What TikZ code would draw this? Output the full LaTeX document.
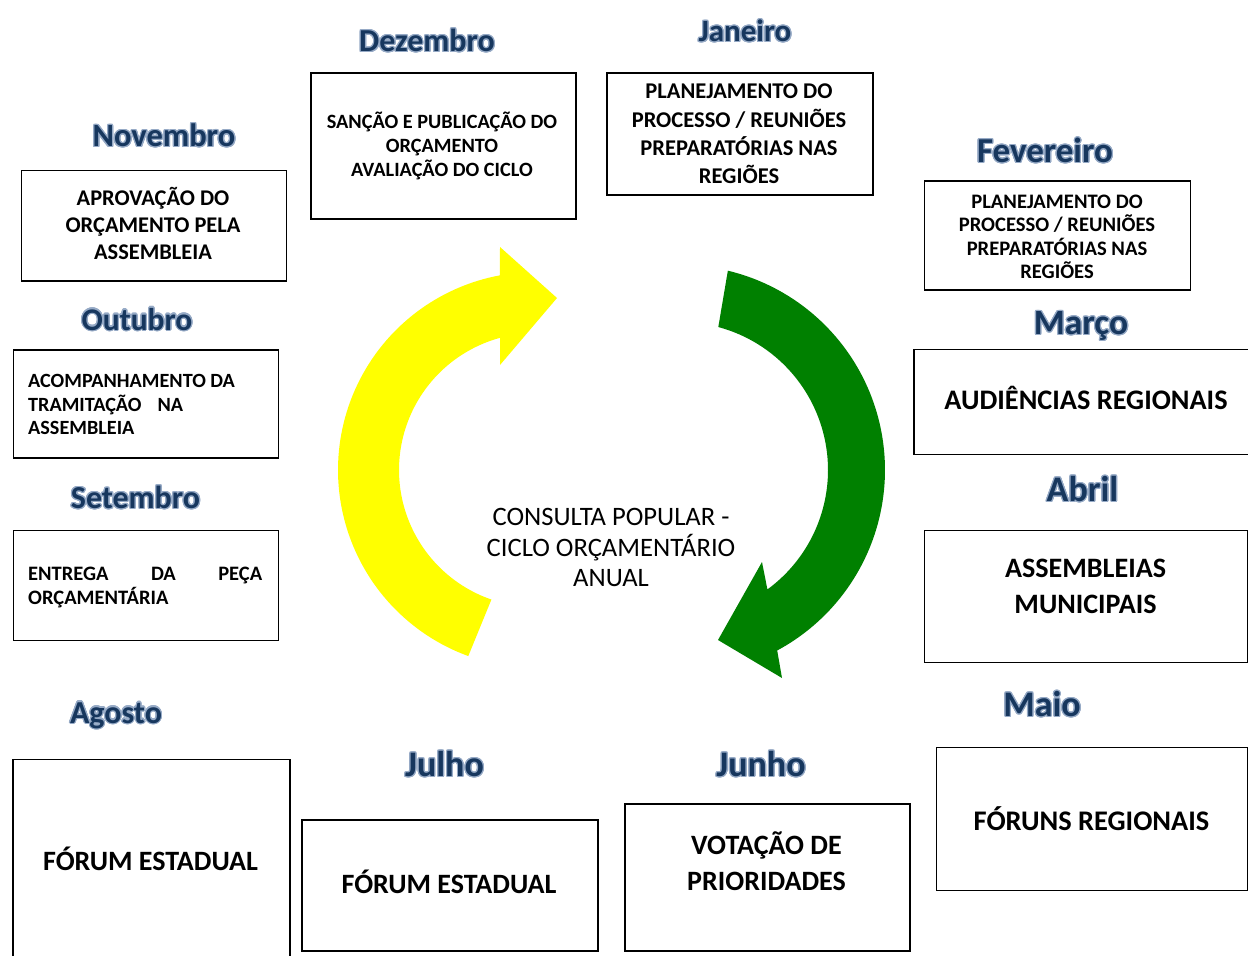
\documentclass[tikz,border=0pt]{standalone}
\usepackage{fontspec}
\setmainfont{Carlito}
\usepackage[copies]{contour}
\contourlength{1.2pt}
\contournumber{20}
\definecolor{monblue}{RGB}{23,55,94}
\definecolor{glowblue}{RGB}{150,170,198}
\definecolor{arrgreen}{RGB}{0,128,0}
\definecolor{arryellow}{RGB}{255,255,0}
\begin{document}
\begin{tikzpicture}[x=1pt,y=-1pt,
  box/.style={draw=black, line width=1.6pt, inner sep=0pt, anchor=north west},
  lbl/.style={font=\bfseries\fontsize{#1}{#1}\selectfont, text=monblue, inner sep=0pt, anchor=base},
  txt/.style={font=\bfseries\fontsize{#1}{#1}\selectfont, align=center, inner sep=0pt},
  ctr/.style={font=\fontsize{#1}{#1}\selectfont, align=center, inner sep=0pt}]
\path[use as bounding box] (0,0) rectangle (1248,956);
\clip (0,0) rectangle (1248,956);
\fill[white] (0,0) rectangle (1248,956);

% arrows
\fill[arryellow] plot[domain=250:100.5, samples=90] ({536+198*cos(\x)},{470-198*sin(\x)})
  -- (500,247) -- (557,298) -- (500,365)
  -- plot[domain=105.2:251, samples=90] ({536+137*cos(\x)},{470-137*sin(\x)}) -- cycle;
\fill[arrgreen] plot[domain=76.5:-61.7, samples=90] ({680+205*cos(\x)},{470-205*sin(\x)})
  -- (782,678) -- (718,640) -- (762,562)
  -- plot[domain=-53.8:75, samples=90] ({680+148*cos(\x)},{470-148*sin(\x)}) -- cycle;

% boxes
\node[box, minimum width=265pt, minimum height=146pt] (bDez) at (310,72) {};
\node[box, minimum width=266pt, minimum height=122pt] (bJan) at (606,72) {};
\node[box, minimum width=265pt, minimum height=110.5pt] (bNov) at (20.5,169.5) {};
\node[box, minimum width=266pt, minimum height=109pt] (bFev) at (923.5,180) {};
\node[box, minimum width=265pt, minimum height=108pt] (bOut) at (12.5,349) {};
\node[box, minimum width=345pt, minimum height=105pt] (bMar) at (913,348.5) {};
\node[box, minimum width=265pt, minimum height=110pt] (bSet) at (12.5,529.5) {};
\node[box, minimum width=323pt, minimum height=132pt] (bAbr) at (923.5,529.5) {};
\node[box, minimum width=277pt, minimum height=220pt] (bAgo) at (12,758.5) {};
\node[box, minimum width=296pt, minimum height=131pt] (bJul) at (301,819) {};
\node[box, minimum width=285pt, minimum height=147pt] (bJun) at (624,803) {};
\node[box, minimum width=311pt, minimum height=143pt] (bMai) at (935.5,746.5) {};

% box texts
\node[txt=20.3, text height=61pt, text depth=0pt, font=\bfseries\fontsize{20.3}{24}\selectfont] (tDez) at (442,146)
  {SANÇÃO E PUBLICAÇÃO DO\\ORÇAMENTO\\AVALIAÇÃO DO CICLO};
\node[txt=22.5, text height=99.3pt, text depth=0pt, font=\bfseries\fontsize{22.5}{28.3}\selectfont] (tJan) at (739,134)
  {PLANEJAMENTO DO\\PROCESSO / REUNIÕES\\PREPARATÓRIAS NAS\\REGIÕES};
\node[txt=22.4, text height=68.3pt, text depth=0pt, font=\bfseries\fontsize{22.4}{27}\selectfont] (tNov) at (153,225)
  {APROVAÇÃO DO\\ORÇAMENTO PELA\\ASSEMBLEIA};
\node[txt=20.6, text height=83.7pt, text depth=0pt, font=\bfseries\fontsize{20.6}{23.5}\selectfont] (tFev) at (1057,237)
  {PLANEJAMENTO DO\\PROCESSO / REUNIÕES\\PREPARATÓRIAS NAS\\REGIÕES};
\node[txt=20.2, align=left, anchor=west, text height=59.9pt, text depth=0pt, font=\bfseries\fontsize{20.2}{23.5}\selectfont] (tOut) at (28,405)
  {ACOMPANHAMENTO DA\\TRAMITAÇÃO\hspace{16pt}NA\\ASSEMBLEIA};
\node[txt=20.5, align=left, anchor=west, text height=37.1pt, text depth=0pt, font=\bfseries\fontsize{20.5}{24}\selectfont] (tSet) at (28,586)
  {\makebox[234pt][s]{ENTREGA\hfill DA\hfill PEÇA}\\ORÇAMENTÁRIA};
\node[txt=28.3, text height=18.1pt, text depth=0pt] (tMar) at (1086,400) {AUDIÊNCIAS REGIONAIS};
\node[txt=28.1, text height=54pt, text depth=0pt, font=\bfseries\fontsize{28.1}{36}\selectfont] (tAbr) at (1085.5,586.5)
  {ASSEMBLEIAS\\MUNICIPAIS};
\node[txt=28.4, text height=18.2pt, text depth=0pt] (tMai) at (1091.5,821) {FÓRUNS REGIONAIS};
\node[txt=28, text height=53.9pt, text depth=0pt, font=\bfseries\fontsize{28}{36}\selectfont] (tJun) at (766.5,864)
  {VOTAÇÃO DE\\PRIORIDADES};
\node[txt=28, text height=17.9pt, text depth=0pt] (tJul) at (449,885) {FÓRUM ESTADUAL};
\node[txt=28, text height=17.9pt, text depth=0pt] (tAgo) at (150.5,862) {FÓRUM ESTADUAL};

% centre text
\node[ctr=26.6, text height=78pt, text depth=0pt, font=\fontsize{26.6}{30.5}\selectfont] (tCen) at (611,547.5)
  {CONSULTA POPULAR -\\CICLO ORÇAMENTÁRIO\\ANUAL};

% month labels
\node[lbl=32] (mDez) at (427,51.7) {\contour{glowblue}{Dezembro}};
\node[lbl=31] (mJan) at (745,41.7) {\contour{glowblue}{Janeiro}};
\node[lbl=32.5] (mNov) at (164,146.7) {\contour{glowblue}{Novembro}};
\node[lbl=35] (mFev) at (1045,162.5) {\contour{glowblue}{Fevereiro}};
\node[lbl=31.5] (mOut) at (137,330) {\contour{glowblue}{Outubro}};
\node[lbl=35.5] (mMar) at (1081,334.5) {\contour{glowblue}{Março}};
\node[lbl=32] (mSet) at (135.5,508.3) {\contour{glowblue}{Setembro}};
\node[lbl=36] (mAbr) at (1082.5,501.5) {\contour{glowblue}{Abril}};
\node[lbl=32] (mAgo) at (116,723) {\contour{glowblue}{Agosto}};
\node[lbl=36] (mMai) at (1042,716.5) {\contour{glowblue}{Maio}};
\node[lbl=36] (mJul) at (444.5,776.5) {\contour{glowblue}{Julho}};
\node[lbl=36] (mJun) at (761,776.5) {\contour{glowblue}{Junho}};
\end{tikzpicture}
\end{document}
